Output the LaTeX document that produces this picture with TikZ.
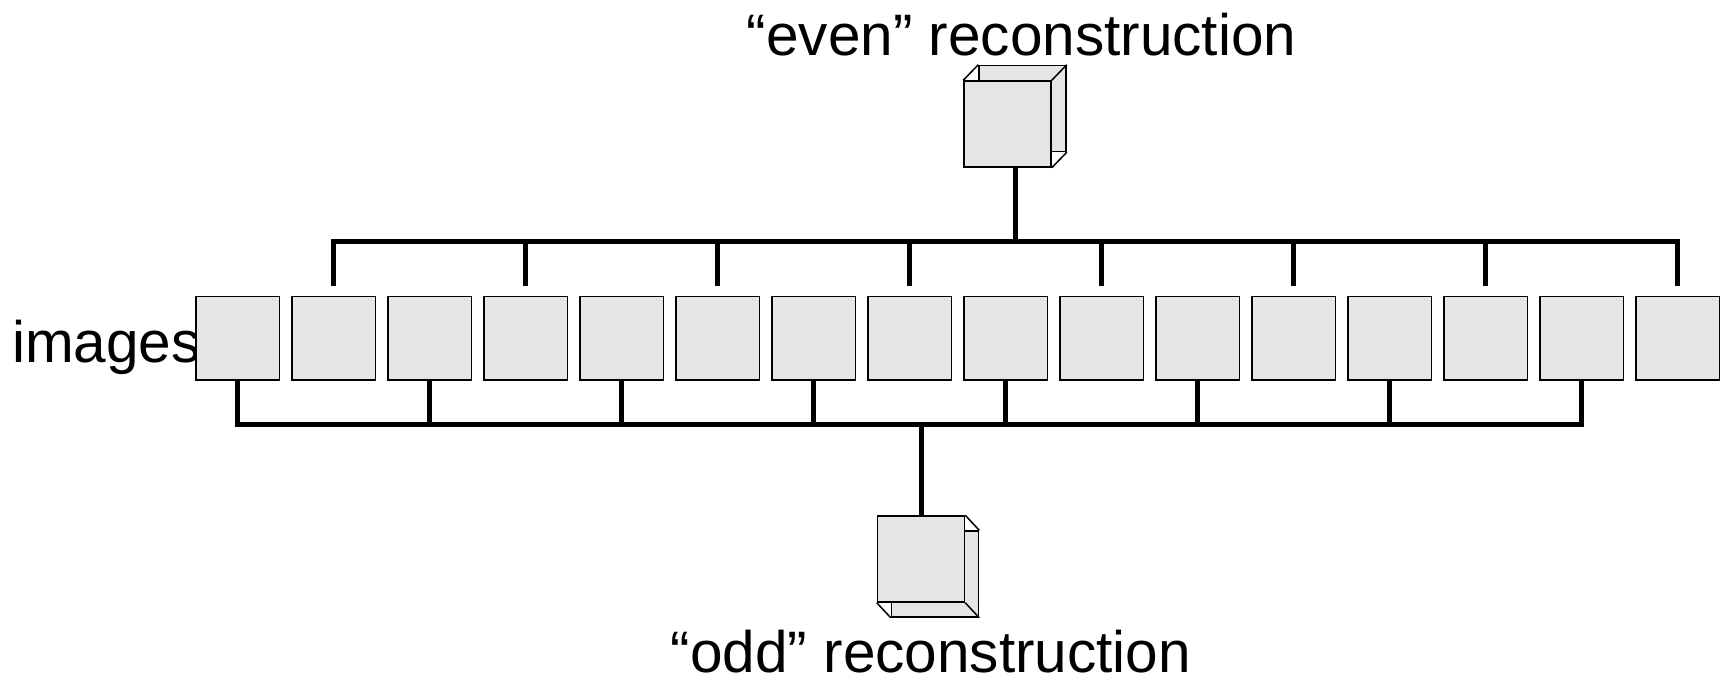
\documentclass[tikz,border=0pt]{standalone}
\usepackage{fontspec}
\setmainfont{Liberation Sans}
\definecolor{boxgray}{HTML}{E5E5E5}
\tikzset{
  imgbox/.style={draw, line width=1.5pt, fill=boxgray, minimum width=83.5pt, minimum height=83.5pt, inner sep=0pt},
  face/.style={draw, line width=1.5pt, fill=boxgray, inner sep=0pt, minimum width=87pt, minimum height=86pt},
  edge/.style={line width=1.5pt},
  bar/.style={line width=5pt, line join=miter, line cap=butt},
  lbl/.style={inner sep=0pt, font=\fontsize{58.5}{70}\selectfont}
}
\begin{document}
\begin{tikzpicture}[x=1pt, y=-1pt]
\useasboundingbox (0,0) rectangle (1722,681);
% labels
\node[lbl, anchor=base] (even) at (1021.5,55) {“even” reconstruction};
\node[lbl, anchor=base] (odd) at (931,672) {“odd” reconstruction};
\node[lbl, anchor=base west] (images) at (12,362) {images};
% image boxes
\foreach \i in {0,...,15}
  \node[imgbox] (b\i) at ({237.75+96*\i},338) {};
% even cube
\node[face] (evenb) at (1022.5,108.5) {};
\node[face] (evenc) at (1007.5,124) {};
\draw[edge] (evenc.north west) -- (evenb.north west);
\draw[edge] (evenc.north east) -- (evenb.north east);
\draw[edge] (evenc.south east) -- (evenb.south east);
% odd cube
\node[face] (oddb) at (935,574) {};
\node[face] (oddc) at (921,559) {};
\draw[edge] (oddc.north east) -- (oddb.north east);
\draw[edge] (oddc.south west) -- (oddb.south west);
\draw[edge] (oddc.south east) -- (oddb.south east);
% top bar (even images)
\coordinate (topy) at (0,241);
\draw[bar] ([yshift=9.5pt]b1.north) -- (b1.north |- topy) -- (b15.north |- topy) -- ([yshift=9.5pt]b15.north);
\foreach \i in {3,5,...,13}
  \draw[bar] ([yshift=9.5pt]b\i.north) -- (b\i.north |- topy);
\coordinate (econ) at (1015,167);
\draw[bar] (econ) -- (econ |- topy);
% bottom bar (odd images)
\coordinate (boty) at (0,424);
\draw[bar] (b0.south) -- (b0.south |- boty) -- (b14.south |- boty) -- (b14.south);
\foreach \i in {2,4,...,12}
  \draw[bar] (b\i.south) -- (b\i.south |- boty);
\coordinate (ocon) at (921,424);
\draw[bar] (ocon) -- (ocon |- oddc.north);
\end{tikzpicture}
\end{document}
